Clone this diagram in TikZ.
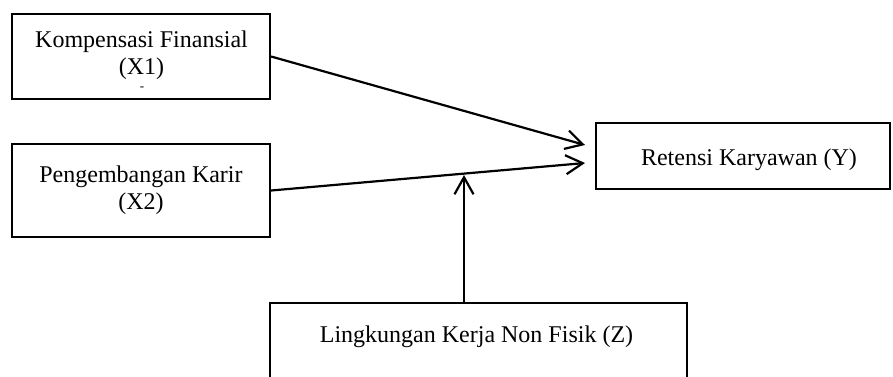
\documentclass[tikz,border=0pt]{standalone}
\usepackage{fontspec}
\setmainfont{Liberation Serif}
\usetikzlibrary{arrows.meta}
\begin{document}
\begin{tikzpicture}[x=1pt,y=-1pt,
  box/.style={draw=black,line width=2.2pt,rectangle,inner sep=0pt,align=center},
  lbl/.style={inner sep=0pt,align=center,font=\fontsize{24}{27}\selectfont},
  arr/.style={line width=2.2pt,-{Straight Barb[length=17pt,width=19pt,line width=2.2pt]}}]
\clip (0,0) rectangle (893,376);
\fill[white] (0,0) rectangle (893,376);
% boxes
\node[box,minimum width=258pt,minimum height=85pt] (x1) at (141,56.5) {};
\node[lbl] (x1t) at (141.5,55) {Kompensasi Finansial\\(X1)};
\node[inner sep=0pt,font=\fontsize{13}{13}\selectfont] (x1d) at (142,89) {-};
\node[box,minimum width=258pt,minimum height=93pt] (x2) at (141,190.5) {};
\node[lbl] (x2t) at (141,190) {Pengembangan Karir\\(X2)};
\node[box,minimum width=294pt,minimum height=66pt] (y) at (743,156) {};
\node[lbl] (yt) at (749,160) {Retensi Karyawan (Y)};
\node[box,minimum width=417pt,minimum height=110pt] (z) at (478.5,358) {};
\node[lbl] (zt) at (476.5,337) {Lingkungan Kerja Non Fisik (Z)};
% connector ends
\coordinate (t1) at (585,145);
\coordinate (t2) at (585,163);
\coordinate (zs) at (464,303);
\coordinate (zh) at (464,175);
\draw[arr] (x1.east) -- (t1);
\draw[arr] (x2.east) -- (t2);
\draw[arr] (zs) -- (zh);
\end{tikzpicture}
\end{document}
